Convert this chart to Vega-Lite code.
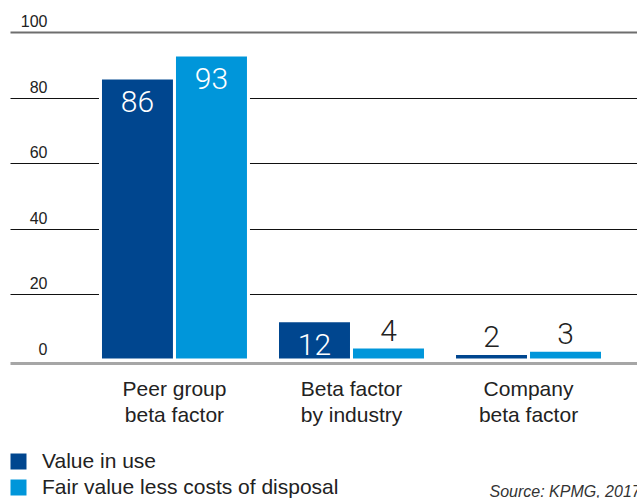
{
  "$schema": "https://vega.github.io/schema/vega-lite/v6.json",
  "width": 627,
  "height": 328,
  "autosize": {"type": "none"},
  "padding": {"left": 10, "top": 32, "right": 0, "bottom": 138},
  "background": "white",
  "config": {"view": {"stroke": null}},
  "data": {
    "values": [
      {"category": "Peer group beta factor", "series": "Value in use", "value": 86},
      {"category": "Peer group beta factor", "series": "Fair value less costs of disposal", "value": 93},
      {"category": "Beta factor by industry", "series": "Value in use", "value": 12},
      {"category": "Beta factor by industry", "series": "Fair value less costs of disposal", "value": 4},
      {"category": "Company beta factor", "series": "Value in use", "value": 2},
      {"category": "Company beta factor", "series": "Fair value less costs of disposal", "value": 3}
    ]
  },
  "encoding": {
    "x": {
      "field": "category",
      "type": "nominal",
      "sort": null,
      "scale": {"paddingInner": 0.164, "paddingOuter": 0.353, "align": 0.724},
      "axis": {
        "orient": "bottom",
        "domain": true,
        "domainColor": "#a6a6a6",
        "domainWidth": 3,
        "offset": 3,
        "ticks": false,
        "grid": false,
        "labelAngle": 0,
        "labelPadding": 15,
        "labelBaseline": "top",
        "labelFont": "Liberation Sans",
        "labelFontSize": 21,
        "labelColor": "#222222",
        "labelLineHeight": 26,
        "labelExpr": "datum.label == 'Peer group beta factor' ? ['Peer group', 'beta factor'] : datum.label == 'Beta factor by industry' ? ['Beta factor', 'by industry'] : ['Company', 'beta factor']",
        "title": "Source: KPMG, 2017",
        "titleX": 479,
        "titleY": 133,
        "titleAlign": "left",
        "titleBaseline": "alphabetic",
        "titleAngle": 0,
        "titleFont": "Liberation Sans",
        "titleFontStyle": "italic",
        "titleFontWeight": "normal",
        "titleFontSize": 16,
        "titleColor": "#333333"
      }
    },
    "xOffset": {
      "field": "series",
      "type": "nominal",
      "sort": ["Value in use", "Fair value less costs of disposal"],
      "scale": {"paddingInner": 0, "paddingOuter": 0}
    },
    "y": {
      "field": "value",
      "type": "quantitative",
      "scale": {"domain": [0, 100], "nice": false, "zero": true},
      "axis": {
        "values": [0, 20, 40, 60, 80, 100],
        "domain": false,
        "ticks": false,
        "grid": true,
        "gridColor": {
          "condition": [
            {"test": "datum.value === 0", "value": "transparent"},
            {"test": "datum.value === 100", "value": "#6e6e6e"}
          ],
          "value": "#111111"
        },
        "gridWidth": {
          "condition": {"test": "datum.value === 100", "value": 2},
          "value": 1
        },
        "gridOpacity": 1,
        "labelAlign": "right",
        "labelBaseline": "alphabetic",
        "labelPadding": -37,
        "labelOffset": -5.5,
        "labelFlush": false,
        "labelOverlap": false,
        "labelFont": "Liberation Sans",
        "labelFontSize": 16,
        "labelColor": "#222222",
        "title": null
      }
    }
  },
  "layer": [
    {
      "mark": {"type": "bar", "stroke": "white", "strokeWidth": 3},
      "encoding": {
        "color": {
          "field": "series",
          "type": "nominal",
          "sort": ["Value in use", "Fair value less costs of disposal"],
          "scale": {
            "domain": ["Value in use", "Fair value less costs of disposal"],
            "range": ["#00468f", "#0096da"]
          },
          "legend": {
            "orient": "none",
            "legendX": -2,
            "legendY": 419,
            "title": null,
            "symbolType": "square",
            "symbolSize": 256,
            "symbolStrokeWidth": 0,
            "symbolOpacity": 1,
            "labelFont": "Liberation Sans",
            "labelFontSize": 21,
            "labelColor": "#222222",
            "labelOffset": 13,
            "rowPadding": 4,
            "labelLimit": 400
          }
        }
      }
    },
    {
      "transform": [{"filter": "datum.value > 10"}],
      "mark": {
        "type": "text",
        "baseline": "alphabetic",
        "dy": 34,
        "font": "Roboto",
        "fontWeight": 300,
        "fontSize": 30,
        "color": "white"
      },
      "encoding": {"text": {"field": "value", "type": "quantitative"}}
    },
    {
      "transform": [{"filter": "datum.value <= 10"}],
      "mark": {
        "type": "text",
        "baseline": "alphabetic",
        "dy": -6,
        "font": "Roboto",
        "fontWeight": 300,
        "fontSize": 30,
        "color": "#222222"
      },
      "encoding": {"text": {"field": "value", "type": "quantitative"}}
    }
  ]
}
